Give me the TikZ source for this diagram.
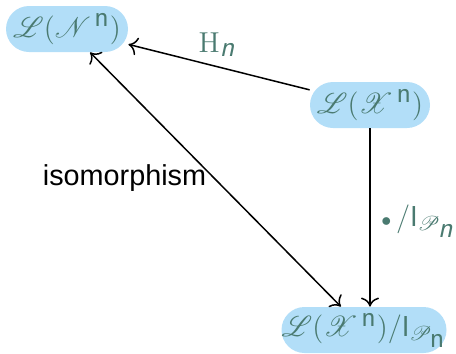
\documentclass[tikz,border=0pt]{standalone}
\usepackage[no-math]{fontspec}
\setmainfont{Liberation Sans}
\usepackage{mathrsfs}
\usetikzlibrary{arrows.meta}
\definecolor{boxfill}{RGB}{178,222,248}
\definecolor{mathc}{RGB}{74,122,112}
\tikzset{
  obj/.style={fill=boxfill, text=mathc, inner sep=0pt, rounded corners=11.5pt,
    minimum height=23pt, font=\fontsize{14.4}{17}\selectfont},
  conn/.style={line width=0.75pt, draw=black},
  tp/.tip={Computer Modern Rightarrow[length=4.5pt,width=9pt,line width=0.75pt]},
  lbl/.style={text=mathc, font=\fontsize{14.4}{17}\selectfont, inner sep=0pt},
}
\begin{document}
\begin{tikzpicture}[x=0.5pt,y=-0.5pt]
\useasboundingbox (0,0) rectangle (456,354);
\node[obj, minimum width=61pt] (A) at (67,29) {$\mathscr{L}(\mathscr{N}^{\,\textsf{n}})$};
\node[obj, minimum width=60pt] (B) at (370,105) {$\mathscr{L}(\mathscr{X}^{\,\textsf{n}})$};
\node[obj, minimum width=82.5pt] (C) at (364,330) {$\mathscr{L}(\mathscr{X}^{\,\textsf{n}})/\textsf{I}_{\mathscr{P}_{\textsf{n}}}$};
\draw[conn, -tp] (B) -- (A);
\draw[conn, -tp] (B) -- (B |- C.north);
\draw[conn, tp-tp] (A) -- (C);
\node[lbl, anchor=base] (hl) at (217,52) {$\mathrm{H}_{\textsf{\textit{n}}}$};
\node[lbl] (pl) at (418,221) {${\scriptstyle\bullet}\,/\textsf{I}_{\mathscr{P}_{\textsf{\textit{n}}}}$};
\node[inner sep=0pt, anchor=base, font=\fontsize{14.4}{17}\selectfont] (iso) at (124.5,185) {isomorphism};
\end{tikzpicture}
\end{document}
